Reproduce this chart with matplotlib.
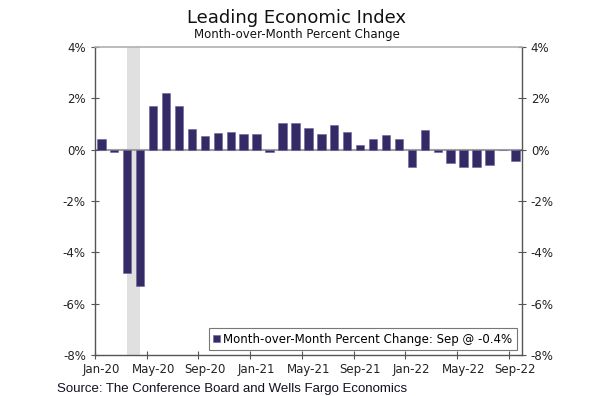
import numpy as np
import matplotlib
matplotlib.use('Agg')
import matplotlib.pyplot as plt

months = ['Jan-20', 'Feb-20', 'Mar-20', 'Apr-20', 'May-20', 'Jun-20', 'Jul-20', 'Aug-20',
          'Sep-20', 'Oct-20', 'Nov-20', 'Dec-20', 'Jan-21', 'Feb-21', 'Mar-21', 'Apr-21',
          'May-21', 'Jun-21', 'Jul-21', 'Aug-21', 'Sep-21', 'Oct-21', 'Nov-21', 'Dec-21',
          'Jan-22', 'Feb-22', 'Mar-22', 'Apr-22', 'May-22', 'Jun-22', 'Jul-22', 'Aug-22',
          'Sep-22']
mom_change = [0.4, -0.1, -4.8, -5.3, 1.7, 2.2, 1.7, 0.8,
              0.55, 0.65, 0.7, 0.6, 0.6, -0.1, 1.05, 1.05,
              0.85, 0.6, 0.95, 0.7, 0.17, 0.42, 0.58, 0.42,
              -0.66, 0.76, -0.08, -0.5, -0.68, -0.68, -0.6, 0.0,
              -0.43]
recession = ('Mar-20', 'Apr-20')
yticks = [4, 2, 0, -2, -4, -6, -8]

x = np.arange(len(months))
fig = plt.figure(figsize=(5.93, 3.96), dpi=100)
ax = fig.add_axes([0.160, 0.1035, 0.720, 0.7775])

# recession shading
ax.axvspan(months.index(recession[0]), months.index(recession[1]),
           color='#e0e0e0', lw=0, zorder=0)
ax.axhline(0, color='#a0a0a0', lw=1.5, zorder=1)
ax.bar(x, mom_change, width=0.65, color='#332a66', edgecolor='#6a62a0',
       linewidth=0.4, zorder=2,
       label='Month-over-Month Percent Change: Sep @ -0.4%')

ax.set_xlim(-0.5, len(months) - 0.5)
ax.set_ylim(-8, 4)
ax.set_yticks(yticks)
ax.set_yticklabels([f'{v}%' for v in yticks])
ax.tick_params(axis='y', which='both', direction='inout', length=6, width=0.8,
               colors='#555555', labelcolor='#222222', labelsize=8.5,
               left=True, right=True, labelleft=True, labelright=True)

# month ticks between bars, labels under bars
ax.set_xticks(np.arange(-0.5, len(months), 4))
ax.set_xticklabels([])
ax.set_xticks(x[::4], minor=True)
ax.set_xticklabels(months[::4], minor=True)
ax.tick_params(axis='x', which='major', direction='inout', length=6, width=0.8,
               colors='#555555')
ax.tick_params(axis='x', which='minor', length=0, labelsize=8.5,
               labelcolor='#222222', pad=6)

for side in ['left', 'right', 'bottom']:
    ax.spines[side].set_color('#555555')
    ax.spines[side].set_linewidth(1.0)
ax.spines['top'].set_color('#b0b0b0')
ax.spines['top'].set_linewidth(1.2)

leg = ax.legend(loc='lower right', fontsize=8.5, frameon=True, fancybox=False,
                handlelength=0.6, handleheight=0.6, handletextpad=0.3,
                borderaxespad=0.45, borderpad=0.35)
leg.get_frame().set_edgecolor('#555555')
leg.get_frame().set_linewidth(0.8)

fig.text(0.5, 0.955, 'Leading Economic Index', ha='center', va='center',
         fontsize=13, color='#111111')
fig.text(0.5, 0.912, 'Month-over-Month Percent Change', ha='center', va='center',
         fontsize=8.5, color='#111111')
fig.text(0.096, 0.018, 'Source: The Conference Board and Wells Fargo Economics',
         ha='left', va='center', fontsize=9.5, family='Liberation Sans',
         color='#111122')

fig.savefig('out.png', dpi=100)
